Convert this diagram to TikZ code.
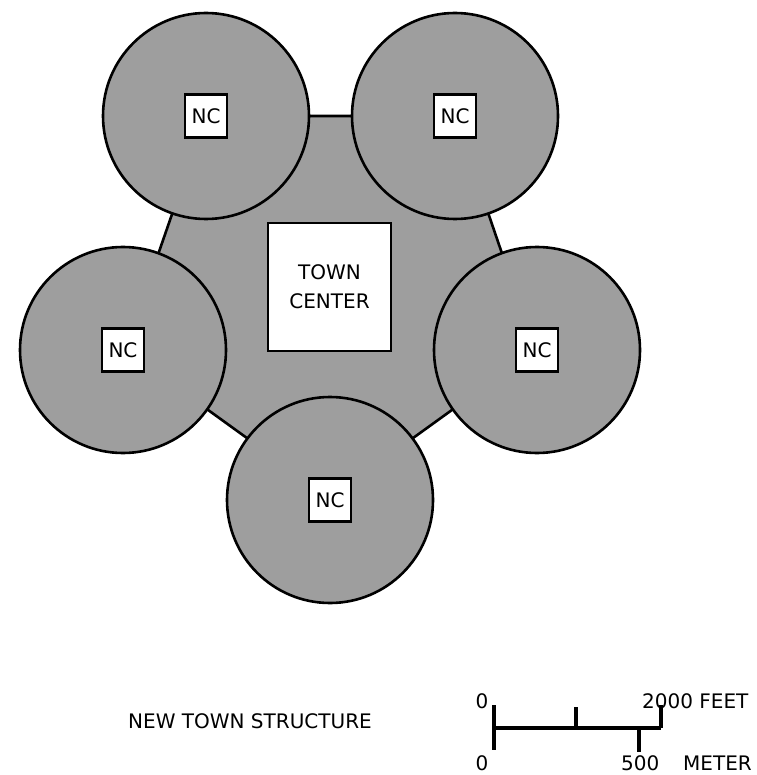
\documentclass[tikz,border=0pt]{standalone}
\usepackage{fontspec}
\setmainfont{DejaVu Sans}
\begin{document}
\begin{tikzpicture}[x=1pt,y=-1pt,
  zone/.style={fill=black!38, draw=black, line width=2.6pt},
  ncircle/.style={circle, zone, minimum size=206pt, inner sep=0pt},
  lbl/.style={font=\fontsize{20}{29}\selectfont, inner sep=0pt},
  ncbox/.style={lbl, draw=black, fill=white, line width=2.4pt, minimum width=42pt, minimum height=43pt},
  tcbox/.style={lbl, draw=black, fill=white, line width=2.4pt, minimum width=123pt, minimum height=128pt, align=center},
  bar/.style={line width=3.8pt}
]
\useasboundingbox (0,0) rectangle (756,775);

% circle centres (pentagon vertices)
\coordinate (ptl) at (206,116);
\coordinate (ptr) at (455,116);
\coordinate (pl)  at (125,350);
\coordinate (pr)  at (535,350);
\coordinate (pb)  at (330,498);

% central pentagon
\draw[zone] (ptl) -- (ptr) -- (pr) -- (pb) -- (pl) -- cycle;

% neighbourhood circles
\node[ncircle] (ctl) at (206,116) {};
\node[ncircle] (ctr) at (455,116) {};
\node[ncircle] (cl)  at (123,350) {};
\node[ncircle] (cr)  at (537,350) {};
\node[ncircle] (cb)  at (330,500) {};

% NC boxes
\node[ncbox] (ntl) at (ctl) {NC};
\node[ncbox] (ntr) at (ctr) {NC};
\node[ncbox] (nl)  at (cl)  {NC};
\node[ncbox] (nr)  at (cr)  {NC};
\node[ncbox] (nb)  at (cb)  {NC};

% town center
\node[tcbox] (tc) at (329.5,287) {TOWN\\CENTER};

% title
\node[lbl, anchor=base west] (title) at (128,728) {NEW TOWN STRUCTURE};

% scale bar
\coordinate (s0t) at (494,705);
\coordinate (s0b) at (494,750);
\coordinate (s0m) at (494,728);
\coordinate (s1m) at (661,728);
\coordinate (s1t) at (661,705);
\coordinate (smt) at (576,707);
\coordinate (smm) at (576,728);
\coordinate (s5m) at (639,728);
\coordinate (s5b) at (639,752);

\node[lbl, anchor=base] (zf) at (482,708) {0};
\node[lbl, anchor=base west] (ft) at (642,708) {2000 FEET};
\node[lbl, anchor=base] (zm) at (482,770) {0};
\node[lbl, anchor=base west] (m5) at (621,770) {500};
\node[lbl, anchor=base west] (mt) at (683,770) {METER};

\draw[bar] (s0t) -- (s0b);
\draw[bar] (s0m) -- (s1m);
\draw[bar] (s1m) -- (s1t);
\draw[bar] (smm) -- (smt);
\draw[bar] (s5m) -- (s5b);
\end{tikzpicture}
\end{document}
